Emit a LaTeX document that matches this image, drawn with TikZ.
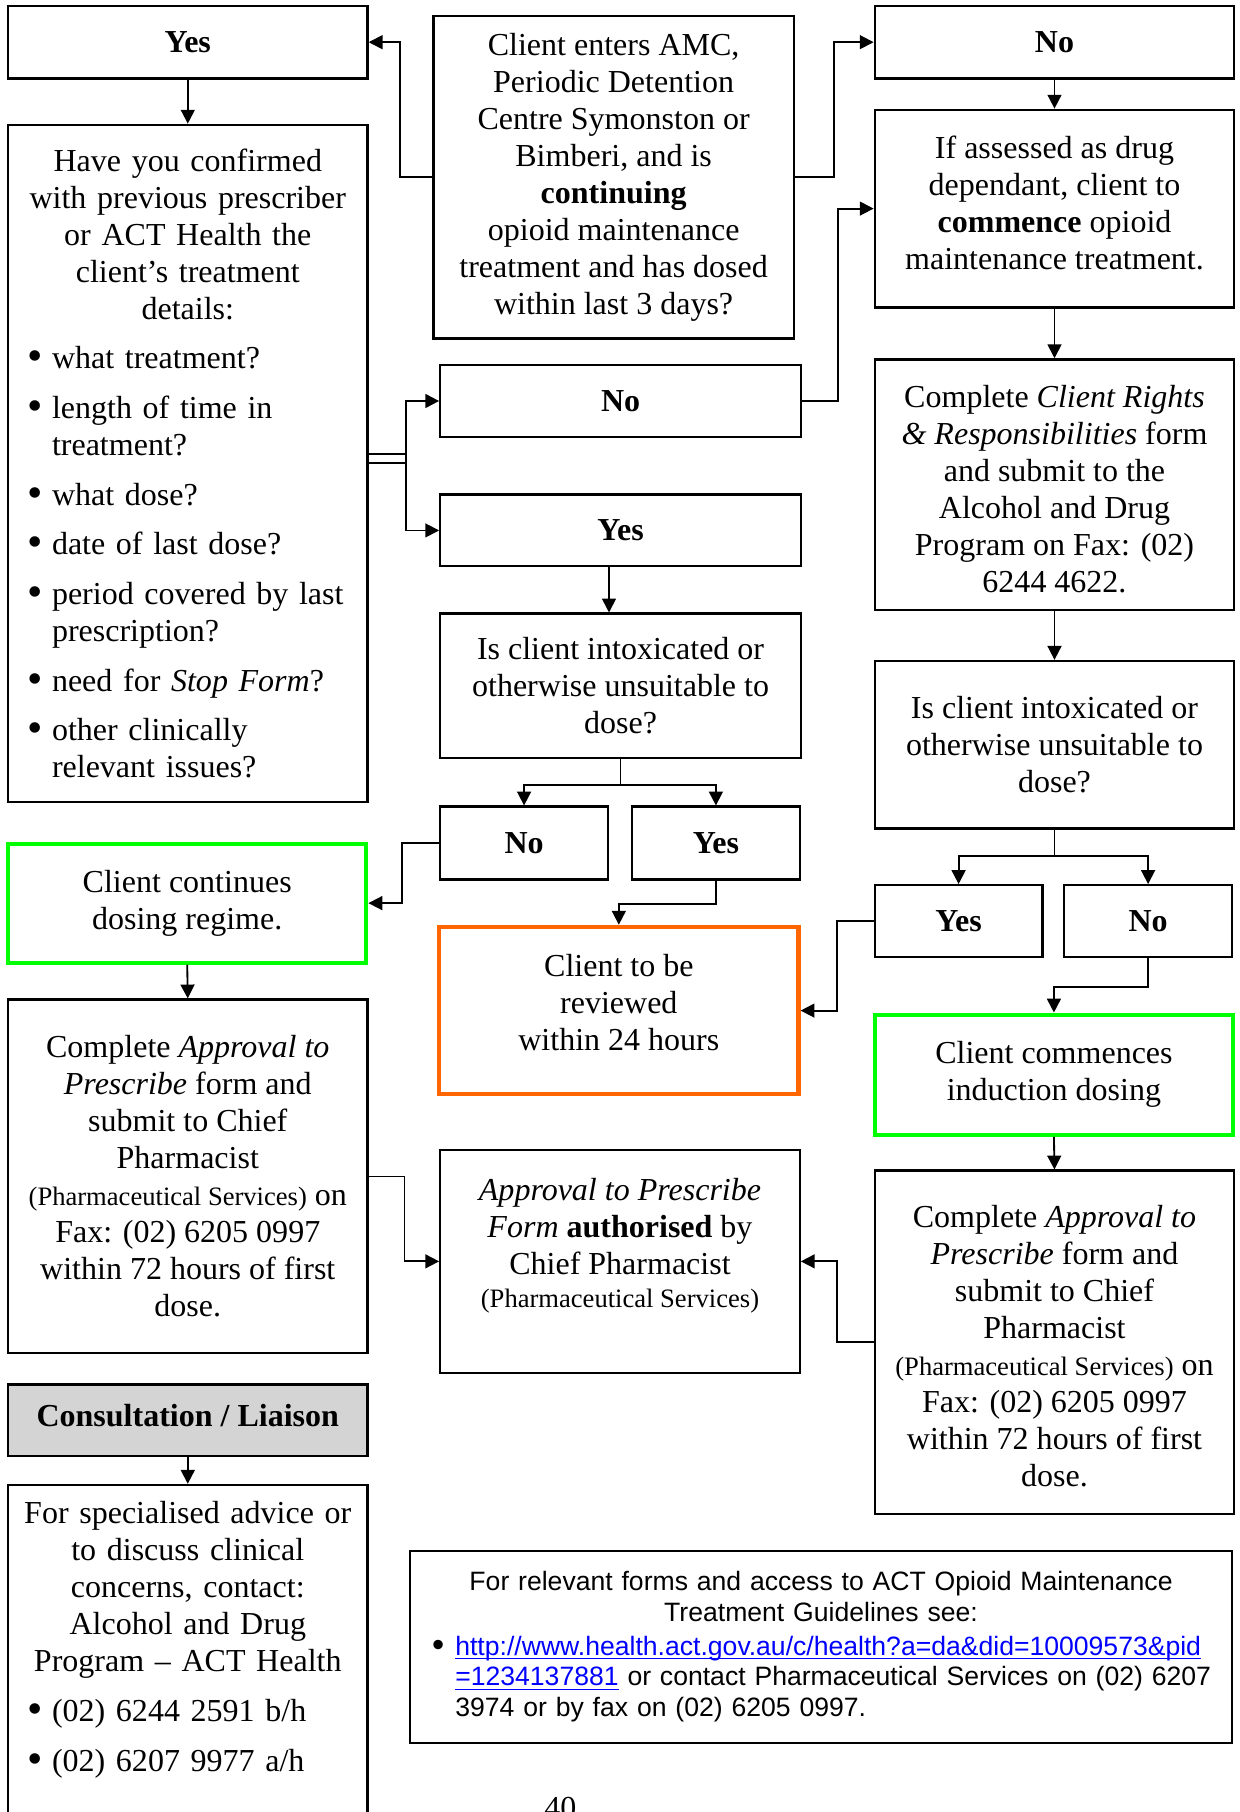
\documentclass[tikz,border=0pt]{standalone}
\usepackage{fontspec}
\setmainfont{Liberation Serif}
\newfontfamily\arialfont{Liberation Sans}
\usetikzlibrary{arrows.meta,calc}
\definecolor{boxgreen}{RGB}{0,255,0}
\definecolor{boxorange}{RGB}{255,102,0}
\definecolor{linkblue}{RGB}{0,0,255}
\definecolor{consgray}{RGB}{212,212,212}
\newcommand{\fsn}{\fontsize{13.85}{16}\selectfont}
\newcommand{\fss}{\fontsize{11.5}{16}\selectfont}
\newcommand{\bigbul}{\raisebox{-0.9pt}{\fontsize{19}{16}\selectfont\textbullet}}
\newcommand{\bul}[1]{\par\noindent\hangindent=19pt\hangafter=1\hspace*{8.6pt}\makebox[10.4pt][l]{\bigbul}#1\par}
\newsavebox{\lnkbox}
\newcommand{\lnk}[1]{\sbox{\lnkbox}{#1}\rlap{\rule[-1.7pt]{\wd\lnkbox}{0.6pt}}\usebox{\lnkbox}}
\tikzset{
  blk/.style={draw=black, line width=1pt, inner sep=0pt, font=\fsn, align=center},
  wh/.style 2 args={minimum width=#1pt, minimum height=#2pt},
  greenbox/.style={draw=boxgreen, line width=1.8pt, inner sep=0pt, font=\fsn, align=center},
  orangebox/.style={draw=boxorange, line width=1.8pt, inner sep=0pt, font=\fsn, align=center},
  conn/.style={line width=0.8pt},
  arr/.style={line width=0.8pt, -{Triangle[length=6pt,width=6pt]}},
}
\begin{document}
\begin{tikzpicture}[x=0.5pt,y=-0.5pt]
\useasboundingbox (0,0) rectangle (1073,1568);
\fill[white] (0,0) rectangle (1073,1568);

% left column
\node[blk, wh={155.5}{31.5}] (yesA) at (162.5,36.5) {\textbf{Yes}};
\node[blk, wh={155.5}{293}, text width=155.5pt, align=left] (confirm) at (162.5,401)
 {\setlength{\parskip}{5.5pt}{\centering Have you confirmed\\ with previous prescriber\\ or ACT Health the\\ client’s treatment\\ details:\par}%
  \bul{what treatment?}%
  \bul{length of time in\newline treatment?}%
  \bul{what dose?}%
  \bul{date of last dose?}%
  \bul{period covered by last\newline prescription?}%
  \bul{need for \textit{Stop Form}?}%
  \bul{other clinically\newline relevant issues?}};
\node[greenbox, wh={155}{51.5}] (contin) at (162,781.5) {Client continues\\ dosing regime.};
\node[blk, wh={155.5}{153}] (approvL) at (162.5,1018)
 {Complete \textit{Approval to}\\ \textit{Prescribe} form and\\ submit to Chief\\ Pharmacist\\ {\fss (Pharmaceutical Services)} on\\ Fax: (02) 6205 0997\\ within 72 hours of first\\ dose.};
\node[blk, wh={155.5}{31}, fill=consgray] (consult) at (162.5,1229) {\textbf{Consultation / Liaison}\\[-12pt]\mbox{}};
\node[blk, wh={155.5}{160}, anchor=north] (special) at (162.5,1284) {};
\node[anchor=north, text width=155.5pt, inner sep=0pt, font=\fsn, align=left] (spectext) at (162.5,1299)
 {\setlength{\parskip}{5.5pt}{\centering For specialised advice or\\ to discuss clinical\\ concerns, contact:\\ Alcohol and Drug\\ Program – ACT Health\par}%
  \bul{(02) 6244 2591 b/h}%
  \bul{(02) 6207 9977 a/h}};

% centre column
\node[blk, wh={156}{139.5}] (enters) at (531,153.5)
 {Client enters AMC,\\ Periodic Detention\\ Centre Symonston or\\ Bimberi, and is\\ \textbf{continuing}\\ opioid maintenance\\ treatment and has dosed\\ within last 3 days?};
\node[blk, wh={156}{31}] (noB) at (537,347) {\textbf{No}};
\node[blk, wh={156}{31}] (yesB) at (537,459) {\textbf{Yes}};
\node[blk, wh={156}{62.5}] (intoxA) at (537,593.5) {Is client intoxicated or\\ otherwise unsuitable to\\ dose?};
\node[blk, wh={72.5}{31.5}] (noC) at (453.5,729.5) {\textbf{No}};
\node[blk, wh={72.5}{31.5}] (yesC) at (619.5,729.5) {\textbf{Yes}};
\node[orangebox, wh={155.5}{72.5}] (review) at (535.5,874.5) {Client to be\\ reviewed\\ within 24 hours\\[-9pt]\mbox{}};
\node[blk, wh={155.5}{96.5}] (auth) at (536.5,1091.5)
 {\textit{Approval to Prescribe}\\ \textit{Form} \textbf{authorised} by\\ Chief Pharmacist\\[-1.5pt] {\fss (Pharmaceutical Services)}\\ \mbox{}};

% right column
\node[blk, wh={155.5}{31.5}] (noA) at (912.5,36.5) {\textbf{No}};
\node[blk, wh={155.5}{85.5}] (assessed) at (912.5,180.5)
 {If assessed as drug\\ dependant, client to\\ \textbf{commence} opioid\\ maintenance treatment.\\[-11pt]\mbox{}};
\node[blk, wh={155.5}{108.5}] (rights) at (912.5,419.5)
 {\mbox{}\\[-2.4pt]Complete \textit{Client Rights}\\ \textit{\& Responsibilities} form\\ and submit to the\\ Alcohol and Drug\\ Program on Fax: (02)\\ 6244 4622.};
\node[blk, wh={155.5}{72.5}] (intoxB) at (912.5,644.5) {Is client intoxicated or\\ otherwise unsuitable to\\ dose?};
\node[blk, wh={72.5}{31}] (yesD) at (829.5,797) {\textbf{Yes}};
\node[blk, wh={72.5}{31}] (noD) at (993.5,797) {\textbf{No}};
\node[greenbox, wh={155}{52}] (induct) at (912,930) {Client commences\\ induction dosing};
\node[blk, wh={155.5}{148.5}] (approvR) at (912.5,1161.5)
 {\mbox{}\\[-3pt]Complete \textit{Approval to}\\ \textit{Prescribe} form and\\ submit to Chief\\ Pharmacist\\ {\fss (Pharmaceutical Services)} on\\ Fax: (02) 6205 0997\\ within 72 hours of first\\ dose.};

% links box
\node[blk, wh={355.5}{83}, text width=355.5pt, align=left, font=\arialfont\fontsize{11.5}{13.25}\selectfont] (links) at (710.5,1425)
 {\setlength{\parskip}{1.5pt}{\centering For relevant forms and access to ACT Opioid Maintenance\\ Treatment Guidelines see:\par}%
  \par\noindent\hangindent=19.5pt\hangafter=1\hspace*{9.5pt}\makebox[10pt][l]{\raisebox{-0.6pt}{\fontsize{15}{13}\selectfont\textbullet}}\textcolor{linkblue}{\lnk{http://www.health.act.gov.au/c/health?a=da\&did=10009573\&pid}}\newline
  \textcolor{linkblue}{\lnk{=1234137881}} or contact Pharmaceutical Services on (02) 6207\newline
  3974 or by fax on (02) 6205 0997.\par};

\node[font=\fsn, anchor=base, inner sep=0pt] (pagenum) at (485,1574) {40};

% connectors
\draw[arr] (enters.west) -- ++(-28,0) |- (yesA.east);
\draw[arr] (enters.east) -- ++(34,0) |- (noA.west);
\draw[arr] (yesA.south) -- (confirm.north);
\draw[arr] (noA.south) -- (assessed.north);
\draw[conn] (confirm.east) -- ++(32,0) coordinate (split);
\draw[conn] ($(confirm.east)+(-2,-8)$) -- ++(34,0);
\draw[arr] (split) |- (noB.west);
\draw[arr] (split) |- (yesB.west);
\draw[arr] (noB.east) -- ++(31,0) |- (assessed.west);
\draw[arr] ([xshift=-5pt]yesB.south) -- ([xshift=-5pt]intoxA.north);
\draw[conn] (intoxA.south) -- ++(0,22) coordinate (hA);
\draw[arr] (hA) -| (noC.north);
\draw[arr] (hA) -| (yesC.north);
\draw[arr] (noC.west) -- ++(-32,0) |- (contin.east);
\draw[arr] (yesC.south) -- ++(0,20) -| (review.north);
\draw[arr] (contin.south) -- (approvL.north);
\draw[arr] (approvL.east) -- ++(31,0) |- (auth.west);
\draw[arr] (approvR.west) -- ++(-32,0) |- (auth.east);
\draw[arr] (assessed.south) -- (rights.north);
\draw[arr] (rights.south) -- (intoxB.north);
\draw[conn] (intoxB.south) -- ++(0,23) coordinate (hB);
\draw[arr] (hB) -| (yesD.north);
\draw[arr] (hB) -| (noD.north);
\draw[arr] (yesD.west) -- ++(-32,0) |- (review.east);
\draw[arr] (noD.south) -- ++(0,25) -| (induct.north);
\draw[arr] (induct.south) -- (approvR.north);
\draw[arr] (consult.south) -- (special.north);
\end{tikzpicture}
\end{document}
